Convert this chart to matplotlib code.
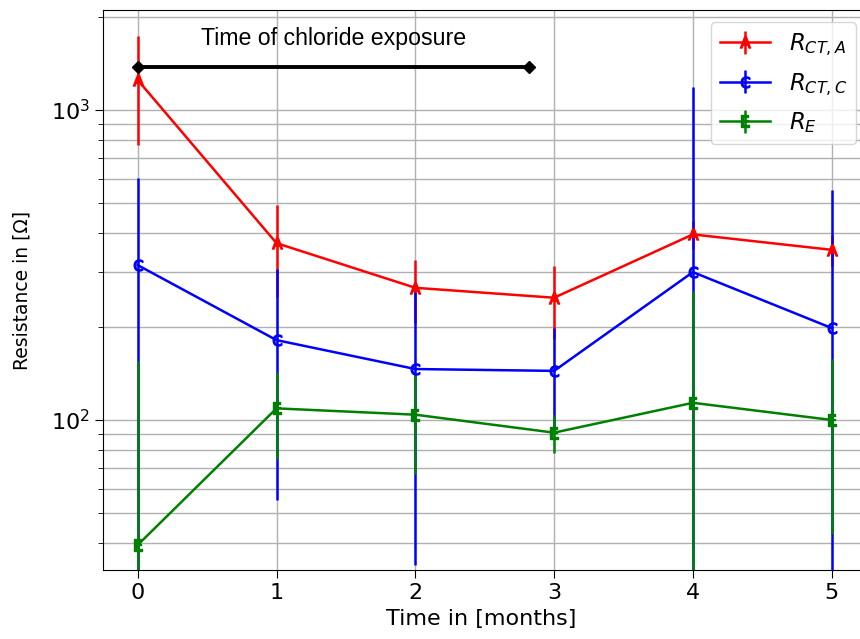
import matplotlib
matplotlib.use("Agg")
import matplotlib.pyplot as plt
from matplotlib import font_manager
import numpy as np

months = [0, 1, 2, 3, 4, 5]

r_ct_a = [1250, 372, 267, 248, 397, 354]
r_ct_a_err = [480, 122, 61, 66, 40, 40]

r_ct_c = [316, 181, 146, 144, 300, 198]
r_ct_c_err = [288, 126, 112, 54, 886, 354]

r_e = [39.5, 109, 104, 91, 113.6, 100]
r_e_err = [115, 34, 37, 12.5, 148, 57]

exposure_start = 0
exposure_end = 2.82
exposure_level = 1377
exposure_text = "Time of chloride exposure"

# pick the regular (non-narrow) Liberation Sans
text_font = None
for f in font_manager.fontManager.ttflist:
    if (f.name == "Liberation Sans" and "Narrow" not in f.fname
            and f.style == "normal" and f.weight in (400, "normal", "regular")):
        text_font = font_manager.FontProperties(fname=f.fname, size=16.7)
        break
if text_font is None:
    text_font = font_manager.FontProperties(family="DejaVu Sans", size=15)

fig = plt.figure(figsize=(8.6, 6.39), dpi=100)
ax = fig.add_axes([0.1198, 0.108, 0.8802, 0.876])

ax.set_yscale("log")
ax.grid(True, which="both", color="#b0b0b0", linewidth=1.0)
ax.set_axisbelow(True)

series = [
    (r_ct_a, r_ct_a_err, "red", r"$\mathsf{A}$", r"$R_{CT,A}$"),
    (r_ct_c, r_ct_c_err, "blue", r"$\mathsf{C}$", r"$R_{CT,C}$"),
    (r_e, r_e_err, "green", r"$\mathsf{E}$", r"$R_E$"),
]
for vals, errs, col, mk, lab in series:
    ax.errorbar(months, vals, yerr=errs, color=col, marker=mk, markersize=8,
                linewidth=1.8, elinewidth=1.8, label=lab)

ax.plot([exposure_start, exposure_end], [exposure_level, exposure_level],
        color="black", linewidth=2.8, marker="D", markersize=6)
ax.text((exposure_start + exposure_end) / 2, 1707, exposure_text,
        ha="center", va="center", fontproperties=text_font)

ax.set_xlim(-0.25, 5.204)
ax.set_ylim(32.8, 2100)
ax.set_xticks(months)
ax.tick_params(axis="both", which="major", labelsize=16, length=6)
ax.tick_params(axis="y", which="minor", length=3.5)
ax.spines["right"].set_visible(False)

ax.set_xlabel("Time in [months]", fontsize=16, labelpad=4)
ax.set_ylabel("Resistance in [Ω]", fontsize=13.5, labelpad=14)

ax.legend(loc="upper right", bbox_to_anchor=(0.9947, 0.9786), fontsize=16.5,
          handlelength=2.2, labelspacing=0.55, borderaxespad=0.0,
          framealpha=0.8)

fig.savefig("out.png", dpi=100)
